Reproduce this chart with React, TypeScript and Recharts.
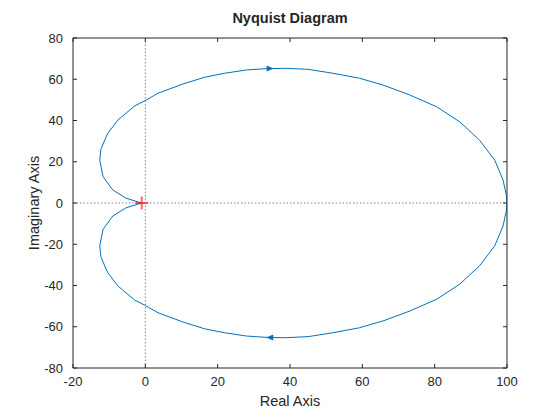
import React from 'react';
import { ComposedChart, Line, Scatter, XAxis, YAxis, ReferenceLine, Label } from 'recharts';

const FONT = '"Liberation Sans", Arial, Helvetica, sans-serif';
const INK = '#262626';
const BLUE = '#0072BD';

const xTicks = [-20, 0, 20, 40, 60, 80, 100];
const yTicks = [-80, -60, -40, -20, 0, 20, 40, 60, 80];

// negative frequencies: from near -1 up around the left loop, over the top to 100
const upperBranch = [
  { x: -1.2, y: 0.1 }, { x: -5.3, y: 2.3 }, { x: -9.0, y: 6.3 }, { x: -11.7, y: 12.8 },
  { x: -12.6, y: 20.8 }, { x: -12.3, y: 26.0 }, { x: -10.5, y: 33.5 }, { x: -7.6, y: 40.2 },
  { x: -3.0, y: 47.0 }, { x: 0.0, y: 49.7 }, { x: 3.5, y: 53.2 }, { x: 10.4, y: 57.7 },
  { x: 16.4, y: 61.0 }, { x: 21.9, y: 62.9 }, { x: 27.9, y: 64.5 }, { x: 34.0, y: 65.2 },
  { x: 39.0, y: 65.3 }, { x: 45.0, y: 64.8 }, { x: 51.9, y: 62.9 }, { x: 59.2, y: 60.5 },
  { x: 65.7, y: 57.2 }, { x: 73.1, y: 52.4 }, { x: 80.5, y: 46.7 }, { x: 86.9, y: 39.4 },
  { x: 92.4, y: 30.5 }, { x: 96.6, y: 20.8 }, { x: 98.9, y: 11.2 }, { x: 99.8, y: 4.0 },
  { x: 100, y: 0 },
];

// positive frequencies: from 100 along the bottom and back round to near -1
const lowerBranch = [
  { x: 99.8, y: -4.0 }, { x: 98.9, y: -11.2 }, { x: 96.6, y: -20.8 }, { x: 92.4, y: -30.5 },
  { x: 86.9, y: -39.4 }, { x: 80.5, y: -46.7 }, { x: 73.1, y: -52.4 }, { x: 65.7, y: -57.2 },
  { x: 59.2, y: -60.5 }, { x: 51.9, y: -62.9 }, { x: 45.0, y: -64.8 }, { x: 39.0, y: -65.3 },
  { x: 34.0, y: -65.2 }, { x: 27.9, y: -64.5 }, { x: 21.9, y: -62.9 }, { x: 16.4, y: -61.0 },
  { x: 10.4, y: -57.7 }, { x: 3.5, y: -53.2 }, { x: 0.0, y: -49.7 }, { x: -3.0, y: -47.0 },
  { x: -7.6, y: -40.2 }, { x: -10.5, y: -33.5 }, { x: -12.3, y: -26.0 }, { x: -12.6, y: -20.8 },
  { x: -11.7, y: -12.8 }, { x: -9.0, y: -6.3 }, { x: -5.3, y: -2.3 }, { x: -1.2, y: -0.1 },
];

const arrowRight = [{ x: 34.5, y: 65.2 }];
const arrowLeft = [{ x: 34.4, y: -65.2 }];
const criticalPoint = [{ x: -1, y: 0 }];

const curve = [...upperBranch, ...lowerBranch];

const RightArrow = (p: any) => (
  <polygon
    points={`${p.cx + 3.5},${p.cy} ${p.cx - 3.5},${p.cy - 3} ${p.cx - 3.5},${p.cy + 3}`}
    fill={BLUE}
  />
);

const LeftArrow = (p: any) => (
  <polygon
    points={`${p.cx - 3.5},${p.cy} ${p.cx + 3.5},${p.cy - 3} ${p.cx + 3.5},${p.cy + 3}`}
    fill={BLUE}
  />
);

const PlusMark = (p: any) => (
  <g stroke="#ff0000" strokeOpacity={0.6} strokeWidth={2}>
    <line x1={p.cx - 6.5} y1={p.cy} x2={p.cx + 6.5} y2={p.cy} />
    <line x1={p.cx} y1={p.cy - 6.5} x2={p.cx} y2={p.cy + 6.5} />
  </g>
);

// empty tick label: keeps the tick marks on the top/right frame
const Nothing = () => <g />;

const tickStyle = { fill: INK, fontSize: 13, fontFamily: FONT };
const axisLine = { stroke: INK, strokeWidth: 1 };

export default function App() {
  return (
    <div style={{ position: 'absolute', left: 0, top: 0, width: 560, height: 420, background: '#fff' }}>
      <ComposedChart
        width={560}
        height={420}
        data={curve}
        margin={{ top: 37, right: 52, bottom: 24, left: 33 }}
      >
        <XAxis
          dataKey="x"
          type="number"
          domain={[-20, 100]}
          ticks={xTicks}
          allowDataOverflow
          height={28}
          tickSize={-4}
          tickMargin={13}
          tick={tickStyle}
          axisLine={axisLine}
          tickLine={axisLine}
        >
          <Label value="Real Axis" position="bottom" offset={0} style={{ fill: INK, fontSize: 14.5, fontFamily: FONT }} />
        </XAxis>
        <XAxis
          xAxisId="top"
          orientation="top"
          dataKey="x"
          type="number"
          domain={[-20, 100]}
          ticks={xTicks}
          allowDataOverflow
          height={1}
          tickSize={-4}
          tick={Nothing}
          axisLine={axisLine}
          tickLine={axisLine}
        >
          <Label
            value="Nyquist Diagram"
            position="top"
            offset={14}
            style={{ fill: INK, fontSize: 14.5, fontWeight: 'bold', fontFamily: FONT }}
          />
        </XAxis>
        <YAxis
          type="number"
          domain={[-80, 80]}
          ticks={yTicks}
          allowDataOverflow
          width={40}
          tickSize={-4}
          tickMargin={14}
          tick={tickStyle}
          axisLine={axisLine}
          tickLine={axisLine}
        >
          <Label
            value="Imaginary Axis"
            angle={-90}
            position="insideLeft"
            offset={1}
            style={{ fill: INK, fontSize: 14.5, fontFamily: FONT, textAnchor: 'middle' }}
          />
        </YAxis>
        <YAxis
          yAxisId="right"
          orientation="right"
          type="number"
          domain={[-80, 80]}
          ticks={yTicks}
          allowDataOverflow
          width={1}
          tickSize={-4}
          tick={Nothing}
          axisLine={axisLine}
          tickLine={axisLine}
        />
        <ReferenceLine x={0} stroke="#808080" strokeDasharray="1.5 2" />
        <ReferenceLine y={0} stroke="#808080" strokeDasharray="1.5 2" />
        <Line
          dataKey="y"
          type="linear"
          stroke={BLUE}
          strokeWidth={1}
          dot={false}
          activeDot={false}
          isAnimationActive={false}
        />
        <Scatter data={arrowRight} dataKey="y" shape={RightArrow} isAnimationActive={false} />
        <Scatter data={arrowLeft} dataKey="y" shape={LeftArrow} isAnimationActive={false} />
        <Scatter data={criticalPoint} dataKey="y" shape={PlusMark} isAnimationActive={false} />
        {/* invisible series so the top and right frame axes get drawn */}
        <Scatter
          data={criticalPoint}
          dataKey="y"
          xAxisId="top"
          yAxisId="right"
          shape={Nothing}
          isAnimationActive={false}
        />
      </ComposedChart>
    </div>
  );
}
